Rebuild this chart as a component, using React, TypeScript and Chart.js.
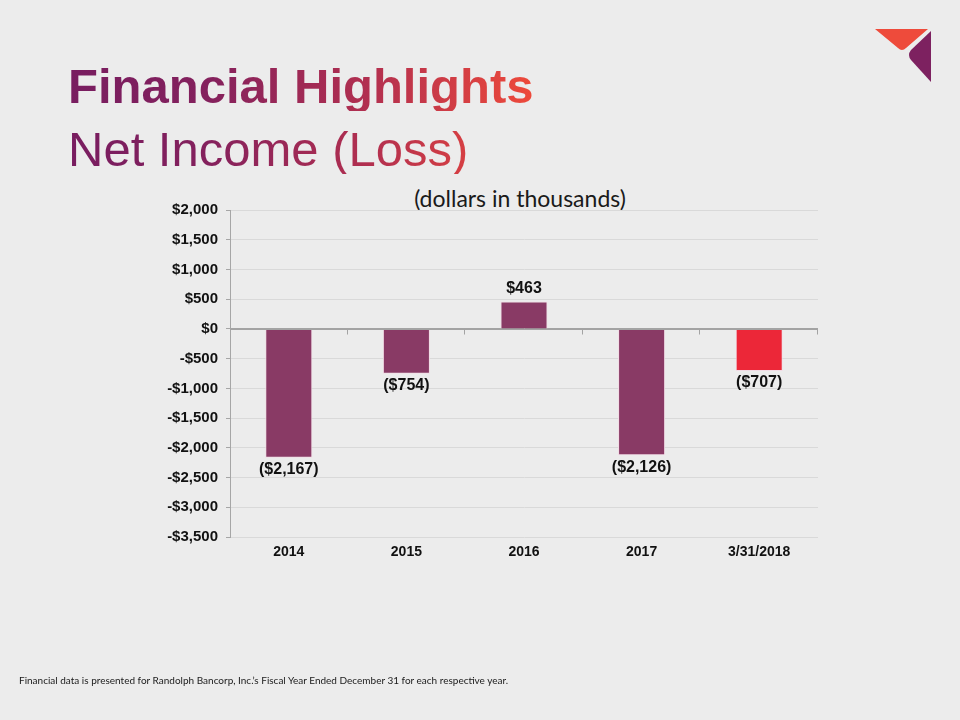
import React, { useEffect, useRef } from 'react';
import { Chart, registerables } from 'chart.js';

Chart.register(...registerables);

const categories = ['2014', '2015', '2016', '2017', '3/31/2018'];
const netIncome = [-2167, -754, 463, -2126, -707];
const barColors = ['#893a65', '#893a65', '#893a65', '#893a65', '#ec2738'];
const yMin = -3500;
const yMax = 2000;
const yStep = 500;

const FONT = '"Liberation Sans", Arial, Helvetica, sans-serif';
const fmt = (v: number) => Math.abs(v).toLocaleString('en-US');

const overlayPlugin = {
  id: 'overlay',
  afterDatasetsDraw(chart: any) {
    const ctx = chart.ctx;
    const xs = chart.scales.x;
    const ys = chart.scales.y;
    const y0 = Math.round(ys.getPixelForValue(0)) + 0.5;
    ctx.save();
    // horizontal axis at zero with category tick marks
    ctx.strokeStyle = '#a3a3a3';
    ctx.lineWidth = 1;
    ctx.beginPath();
    ctx.moveTo(xs.left, y0);
    ctx.lineTo(xs.right, y0);
    const n = categories.length;
    for (let i = 1; i <= n; i++) {
      const x = Math.round(xs.left + (xs.width * i) / n) - 0.5;
      ctx.moveTo(x, y0);
      ctx.lineTo(x, y0 + 5);
    }
    ctx.stroke();
    // data labels
    const meta = chart.getDatasetMeta(0);
    ctx.font = `bold 16px ${FONT}`;
    ctx.fillStyle = '#111111';
    ctx.textAlign = 'center';
    ctx.textBaseline = 'middle';
    meta.data.forEach((bar: any, i: number) => {
      const v = netIncome[i];
      const txt = v < 0 ? `($${fmt(v)})` : `$${fmt(v)}`;
      const y = v < 0 ? bar.y + 12 : bar.y - 13;
      ctx.fillText(txt, bar.x, y);
    });
    ctx.restore();
  },
};

function ChartCanvas() {
  const ref = useRef<HTMLCanvasElement | null>(null);
  useEffect(() => {
    if (!ref.current) return;
    const chart = new Chart(ref.current, {
      type: 'bar',
      data: {
        labels: categories,
        datasets: [
          {
            data: netIncome,
            backgroundColor: barColors,
            borderColor: '#f2dbe5',
            borderWidth: 1,
            barPercentage: 0.4,
            categoryPercentage: 1,
          },
        ],
      },
      options: {
        responsive: false,
        animation: false,
        devicePixelRatio: 1,
        layout: { padding: { left: 0, right: 142, top: 210, bottom: 153 } },
        plugins: { legend: { display: false }, tooltip: { enabled: false }, title: { display: false } },
        scales: {
          x: {
            grid: { display: false, drawTicks: false },
            border: { display: false },
            ticks: {
              color: '#111111',
              font: { family: FONT, size: 14, weight: 'bold' },
              padding: 7,
              maxRotation: 0,
            },
            afterFit: (s: any) => {
              s.height = 30;
            },
          },
          y: {
            min: yMin,
            max: yMax,
            border: { display: true, color: '#a6a6a6' },
            grid: {
              color: (c: any) => (c.tick && c.tick.value === 0 ? '#a3a3a3' : '#d9d9d9'),
              tickColor: '#a6a6a6',
              tickLength: 4,
              drawTicks: true,
            },
            ticks: {
              stepSize: yStep,
              color: '#111111',
              font: { family: FONT, size: 15, weight: 'bold' },
              padding: 8,
              callback: (v: any) => (v < 0 ? `-$${fmt(v)}` : `$${fmt(v)}`),
            },
            afterFit: (s: any) => {
              s.width = 230;
            },
          },
        },
      },
      plugins: [overlayPlugin],
    });
    return () => chart.destroy();
  }, []);
  return <canvas ref={ref} width={960} height={720} style={{ position: 'absolute', left: 0, top: 0, width: 960, height: 720 }} />;
}

function Logo() {
  return (
    <svg width={960} height={720} style={{ position: 'absolute', left: 0, top: 0 }}>
      <path d="M875 29 L928 29 L906 48 Q902 52 898 48 Z" fill="#ee4b3b" />
      <path d="M931 31 L931 82 L911 60 Q907 55 911 50 Z" fill="#7d2160" />
    </svg>
  );
}

export default function App() {
  const gradient = 'linear-gradient(90deg, #781d60 0%, #84215d 30%, #b3304f 65%, #ef4a3a 100%)';
  const gradText: React.CSSProperties = {
    position: 'absolute',
    left: 68,
    width: 468,
    fontFamily: FONT,
    fontSize: 49,
    lineHeight: '49px',
    whiteSpace: 'nowrap',
    backgroundImage: gradient,
    WebkitBackgroundClip: 'text',
    backgroundClip: 'text',
    color: 'transparent',
  };
  return (
    <div style={{ position: 'absolute', left: 0, top: 0, width: 960, height: 720, background: '#ececec', overflow: 'hidden' }}>
      <div style={{ ...gradText, top: 62, fontWeight: 'bold' }}>Financial Highlights</div>
      <div style={{ ...gradText, top: 125, fontWeight: 'normal' }}>Net Income (Loss)</div>
      <div
        style={{
          position: 'absolute',
          left: 320,
          width: 400,
          top: 184,
          textAlign: 'center',
          fontFamily: 'Lato, "Open Sans", sans-serif',
          fontSize: 23,
          lineHeight: '28px',
          color: '#1a1a1a',
        }}
      >
        (dollars in thousands)
      </div>
      <ChartCanvas />
      <Logo />
      <div
        style={{
          position: 'absolute',
          left: 19,
          top: 673,
          fontFamily: 'Lato, "Open Sans", sans-serif',
          fontSize: 10,
          lineHeight: '14px',
          color: '#1a1a1a',
          whiteSpace: 'nowrap',
        }}
      >
        Financial data is presented for Randolph Bancorp, Inc.’s Fiscal Year Ended December 31 for each respective year.
      </div>
    </div>
  );
}
